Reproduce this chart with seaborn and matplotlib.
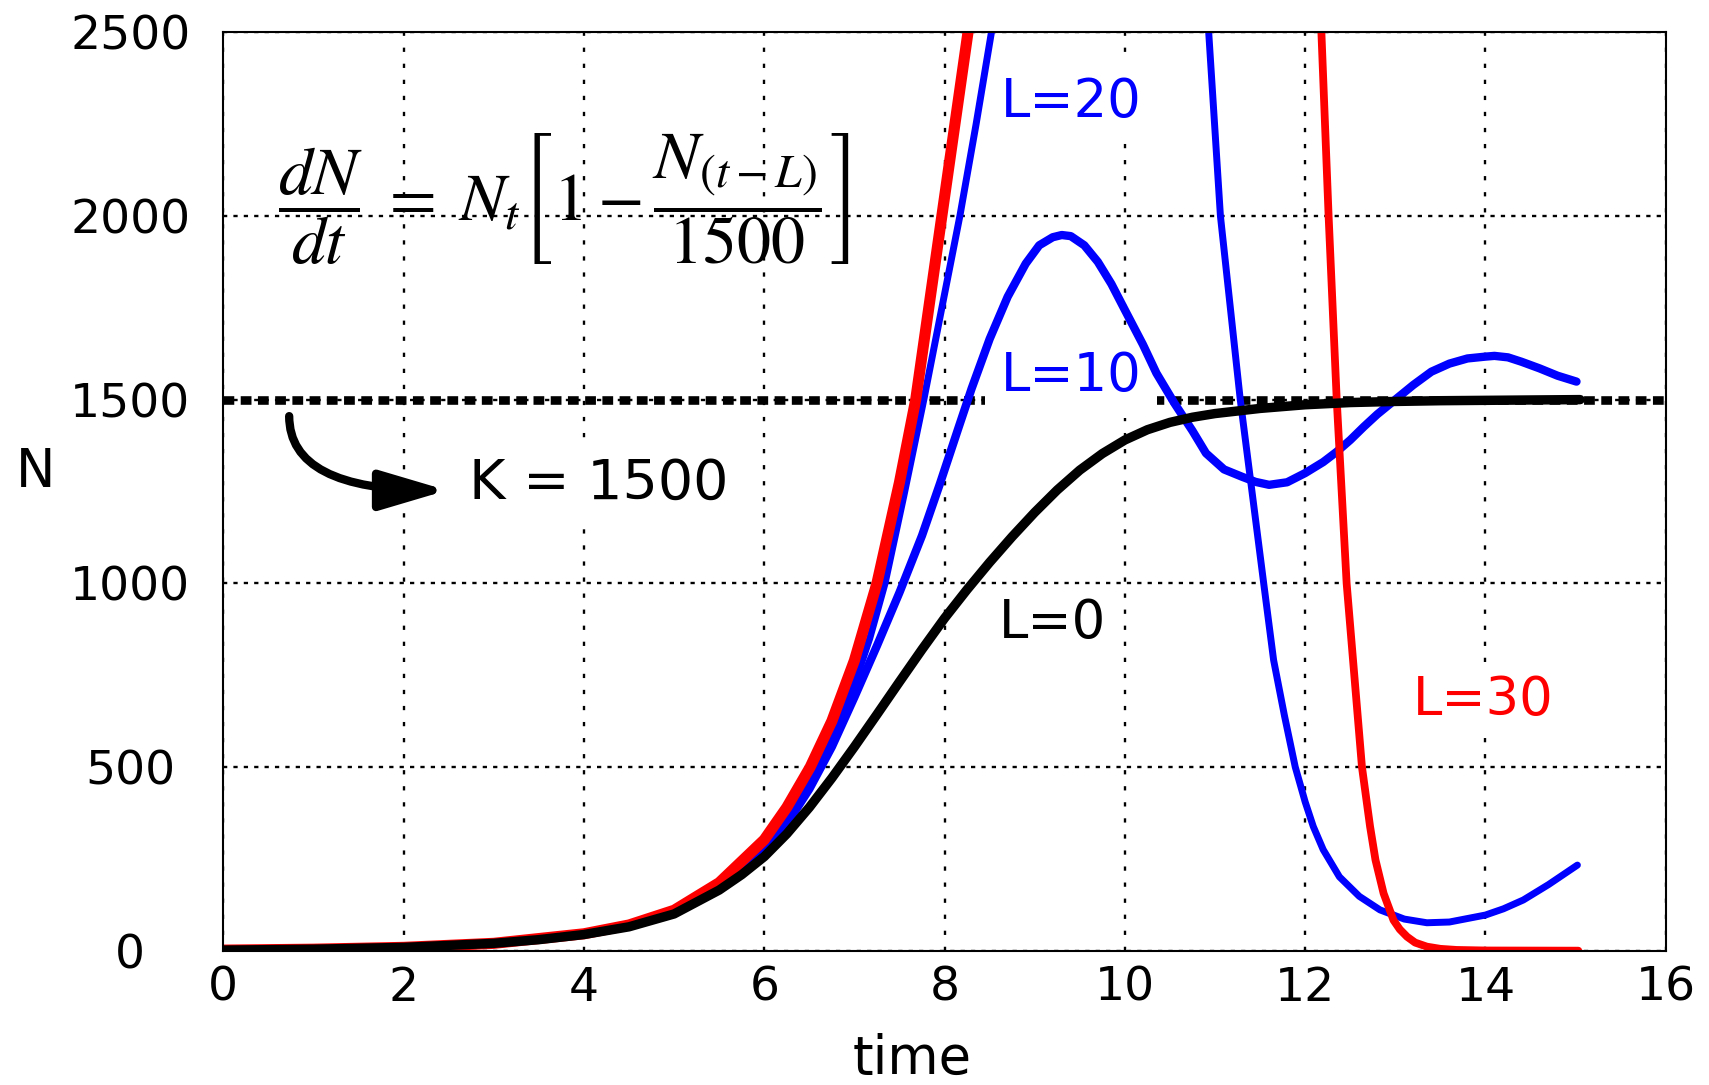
import numpy as np
import pandas as pd
import matplotlib
matplotlib.use("Agg")
import matplotlib.pyplot as plt
import seaborn as sns

# ---------------- data ----------------
t_L0 = [0, 1, 2, 3, 3.5, 4, 4.5, 5, 5.5, 5.75, 6, 6.25, 6.5, 6.75, 7, 7.25,
        7.5, 7.75, 8, 8.25, 8.5, 8.75, 9, 9.25, 9.5, 9.75, 10, 10.25, 10.5,
        10.75, 11, 11.5, 12, 12.5, 13, 13.5, 14, 14.5, 15.05]
N_L0 = [1.5, 4, 9, 20, 30, 44, 65, 100, 165, 207, 256, 318, 390, 470, 555, 643,
        732, 820, 905, 983, 1057, 1127, 1193, 1254, 1308, 1353, 1390, 1418,
        1438, 1452, 1462, 1476, 1486, 1492, 1495, 1497, 1498, 1499, 1500]

t_L10 = [0, 1, 2, 3, 4, 4.5, 5, 5.5, 6, 6.25, 6.5, 6.75, 7, 7.25, 7.5, 7.75,
         7.95, 8.15, 8.3, 8.5, 8.7, 8.9, 9.05, 9.2, 9.3, 9.4, 9.55, 9.7, 9.85,
         10, 10.2, 10.35, 10.55, 10.75, 10.9, 11.1, 11.3, 11.45, 11.6, 11.8, 12,
         12.2, 12.35, 12.5, 12.65, 12.8, 13, 13.2, 13.4, 13.6, 13.8, 14, 14.1,
         14.25, 14.4, 14.6, 14.8, 15.01]
N_L10 = [1.5, 4, 9, 20, 45, 68, 105, 175, 272, 345, 440, 555, 690, 830, 975,
         1130, 1272, 1420, 1530, 1665, 1780, 1870, 1920, 1942, 1948, 1945, 1920,
         1875, 1815, 1744, 1650, 1572, 1490, 1415, 1354, 1310, 1290, 1276, 1268,
         1275, 1300, 1330, 1358, 1390, 1426, 1460, 1500, 1540, 1576, 1598, 1612,
         1617, 1619, 1615, 1603, 1585, 1565, 1549]

t_L20_up = [0, 1, 2, 3, 4, 4.5, 5, 5.5, 6, 6.3, 6.59, 6.8, 7, 7.17, 7.34, 7.55,
            7.77, 7.97, 8.17, 8.35, 8.52]
N_L20_up = [1.5, 4, 9, 20, 45, 68, 106, 178, 280, 370, 500, 610, 725, 850, 1000,
            1240, 1500, 1750, 2000, 2250, 2500]
t_L20_down = [10.93, 11.06, 11.28, 11.54, 11.65, 11.77, 11.89, 12.0, 12.09,
              12.2, 12.38, 12.6, 12.83, 13.1, 13.35, 13.6, 14, 14.2, 14.42,
              14.7, 15.02]
N_L20_down = [2500, 2000, 1500, 1000, 791, 640, 500, 405, 338, 275, 201, 148,
              111, 86, 76, 78, 97, 114, 138, 180, 233]

t_L30_up = [0, 1, 2, 3, 4, 4.5, 5, 5.5, 6, 6.25, 6.51, 6.75, 7, 7.25, 7.5, 7.68,
            7.97, 8.26]
N_L30_up = [1.5, 4, 9, 20, 46, 70, 110, 185, 302, 390, 500, 625, 790, 1000, 1275,
            1500, 2000, 2500]
t_L30_down = [12.18, 12.26, 12.35, 12.46, 12.63, 12.72, 12.78, 12.87, 12.98,
              13.05, 13.13, 13.22, 13.35, 13.5, 13.68, 14.0, 15.03]
N_L30_down = [2500, 2000, 1500, 1000, 500, 338, 247, 156, 83, 58, 38, 22, 11, 5,
              2, 0.5, 0]

K_t = [0, 16]
K_N = [1500, 1500]

x_ticks = [0, 2, 4, 6, 8, 10, 12, 14, 16]
y_ticks = [0, 500, 1000, 1500, 2000, 2500]

# ---------------- style ----------------
sns.set_style("white")
plt.rcParams["font.family"] = ["DejaVu Sans"]
plt.rcParams["mathtext.fontset"] = "stix"
for k in ["text.color", "axes.labelcolor", "xtick.color", "ytick.color"]:
    plt.rcParams[k] = "black"

fig = plt.figure(figsize=(17.09, 10.85), dpi=100)
ax = fig.add_axes([0.1307, 0.1238, 0.8440, 0.8465])

ax.set_xlim(0, 16)
ax.set_ylim(0, 2500)

# grid: dotted black
ax.set_axisbelow(True)
ax.xaxis.grid(True, color="black", lw=1.7, linestyle=(0, (1.8, 5.0)))
ax.yaxis.grid(True, color="black", lw=1.7, linestyle=(0, (1.8, 2.6)))

# carrying capacity line
sns.lineplot(x=K_t, y=K_N, ax=ax, color="black", lw=6.2,
             linestyle=(0, (1.25, 0.75)), zorder=2)

blue = "#0000ff"
red = "#ff0000"
sns.lineplot(x=t_L10, y=N_L10, ax=ax, color=blue, lw=6.0, sort=False,
             estimator=None, zorder=3)
sns.lineplot(x=t_L20_up, y=N_L20_up, ax=ax, color=blue, lw=5.0, sort=False,
             estimator=None, zorder=3.1)
sns.lineplot(x=t_L20_down, y=N_L20_down, ax=ax, color=blue, lw=5.0, sort=False,
             estimator=None, zorder=3.1)
sns.lineplot(x=t_L30_up, y=N_L30_up, ax=ax, color=red, lw=8.0, sort=False,
             estimator=None, zorder=3.2)
sns.lineplot(x=t_L30_down, y=N_L30_down, ax=ax, color=red, lw=5.6, sort=False,
             estimator=None, zorder=3.2)
sns.lineplot(x=t_L0, y=N_L0, ax=ax, color="black", lw=6.8, sort=False,
             estimator=None, zorder=3.3)

# spines
for s in ax.spines.values():
    s.set_visible(True)
    s.set_color("black")
    s.set_linewidth(1.5)
    s.set_zorder(4)

ax.set_xticks(x_ticks)
ax.set_yticks(y_ticks)
ax.set_xticklabels([str(v) for v in x_ticks], fontsize=34)
ax.set_yticklabels([str(v) for v in y_ticks], fontsize=34, ha="center")
ax.tick_params(axis="x", length=0, pad=11)
ax.tick_params(axis="y", length=0, pad=67)

ax.set_xlabel("time", fontsize=38)
ax.xaxis.set_label_coords(0.4775, -0.118)
ax.xaxis.label.set_va("center")
ax.set_ylabel("N", fontsize=38, rotation=0)
ax.yaxis.set_label_coords(-0.130, 0.521)
ax.yaxis.label.set_va("center")
ax.yaxis.label.set_ha("center")

box = dict(boxstyle="square,pad=0.3", fc="white", ec="none")
ax.text(9.40, 2311, "L=20", color=blue, fontsize=38, ha="center", va="center",
        bbox=box, zorder=2.5)
ax.text(9.40, 1564, "L=10", color=blue, fontsize=38, ha="center", va="center",
        bbox=box, zorder=2.5)
ax.text(9.20, 891, "L=0", color="black", fontsize=38, ha="center", va="center",
        bbox=dict(boxstyle="square,pad=0.1", fc="white", ec="none"), zorder=2.5)
ax.text(13.97, 682, "L=30", color=red, fontsize=38, ha="center", va="center",
        bbox=dict(boxstyle="square,pad=0.1", fc="white", ec="none"), zorder=2.5)
ax.text(4.16, 1272, "K = 1500", color="black", fontsize=40, ha="center",
        va="center", bbox=dict(boxstyle="square,pad=0.2", fc="white", ec="none"),
        zorder=2.5)

ax.text(3.78, 2045,
        r"$\dfrac{dN}{dt}\;=\;N_t\left[1-\dfrac{N_{(t-L)}}{1500}\right]$",
        fontsize=49, ha="center", va="center", color="black", zorder=2.6)

ax.annotate("", xy=(2.48, 1253), xytext=(0.73, 1455),
            arrowprops=dict(arrowstyle="-|>,head_length=1.35,head_width=0.4",
                            connectionstyle="angle3,angleA=90,angleB=0",
                            lw=6, color="black",
                            shrinkA=0, shrinkB=0, mutation_scale=30),
            zorder=3)

fig.savefig("out.png", dpi=100)
